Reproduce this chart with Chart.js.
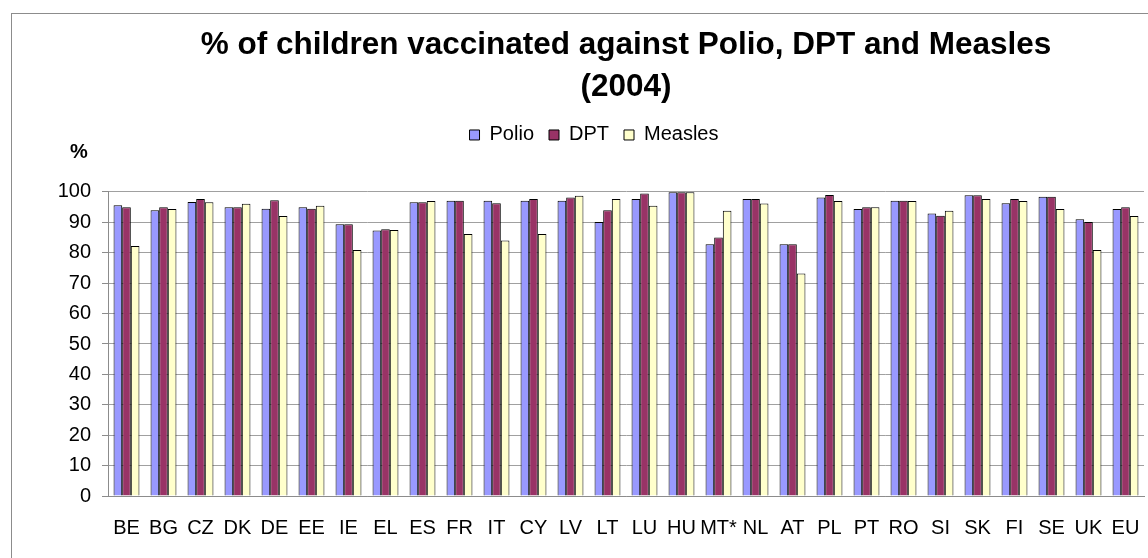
<!DOCTYPE html>
<html>
<head>
<meta charset="utf-8">
<title>% of children vaccinated against Polio, DPT and Measles (2004)</title>
<script src="https://cdn.jsdelivr.net/npm/chart.js@4.4.1/dist/chart.umd.min.js"></script>
<style>
  body { margin: 0; background: #fff; }
  canvas { display: block; }
</style>
</head>
<body>
<canvas id="vaccines-chart" width="1148" height="558"></canvas>
<script>
// values (%)
const countries = ['BE', 'BG', 'CZ', 'DK', 'DE', 'EE', 'IE', 'EL', 'ES', 'FR', 'IT', 'CY', 'LV', 'LT',
  'LU', 'HU', 'MT*', 'NL', 'AT', 'PL', 'PT', 'RO', 'SI', 'SK', 'FI', 'SE', 'UK', 'EU'];
const polio = [95.6, 94.0, 96.7, 95.0, 94.5, 95.0, 89.4, 87.3, 96.6, 97.1, 97.1, 97.1, 97.1, 90.1,
  97.7, 99.9, 82.8, 97.7, 82.8, 98.2, 94.4, 97.1, 92.9, 98.9, 96.3, 98.4, 91.0, 94.4];
const dpt = [95.0, 95.0, 97.7, 95.0, 97.3, 94.5, 89.4, 87.7, 96.6, 97.1, 96.3, 97.7, 98.2, 94.0,
  99.5, 99.9, 85.0, 97.7, 82.8, 99.0, 95.0, 97.1, 92.2, 98.9, 97.7, 98.4, 90.1, 95.0];
const measles = [82.2, 94.4, 96.6, 96.1, 92.1, 95.5, 80.9, 87.5, 97.0, 86.2, 84.0, 86.2, 98.8, 97.7,
  95.5, 99.9, 93.8, 96.2, 73.2, 97.0, 95.0, 97.0, 93.8, 97.7, 97.0, 94.4, 80.9, 92.1];
const yTicks = [0, 10, 20, 30, 40, 50, 60, 70, 80, 90, 100];
const unitText = '%';

const FONT = "'Liberation Sans', Arial, sans-serif";

// grey frame round the whole chart (it runs off the right/bottom edge in the original)
const frame = {
  id: 'frame',
  beforeDraw(chart) {
    const ctx = chart.ctx;
    ctx.save();
    ctx.fillStyle = '#fff';
    ctx.fillRect(0, 0, chart.width, chart.height);
    ctx.strokeStyle = '#8c8c8c';
    ctx.lineWidth = 1;
    ctx.strokeRect(11.5, 13.5, chart.width + 50, chart.height + 50);
    ctx.restore();
  }
};

// a layout box under the legend that holds the "%" unit label above the y axis
const unitLabel = {
  id: 'unitLabel',
  beforeInit(chart) {
    const box = {
      position: 'top',
      weight: 500,
      fullSize: true,
      options: { stackWeight: 1 },
      isHorizontal() { return true; },
      update(maxWidth) {
        this.width = maxWidth;
        this.height = 37;
      },
      draw() {
        const ctx = chart.ctx;
        ctx.save();
        ctx.fillStyle = '#000';
        ctx.font = 'bold 20px ' + FONT;
        ctx.textAlign = 'left';
        ctx.textBaseline = 'middle';
        ctx.fillText(unitText, 70, this.top - 2);
        ctx.restore();
      }
    };
    Chart.layouts.addBox(chart, box);
  }
};

const ctx = document.getElementById('vaccines-chart').getContext('2d');
const chart = new Chart(ctx, {
  type: 'bar',
  data: {
    labels: countries,
    datasets: [
      { label: 'Polio', data: polio, backgroundColor: '#9999FF' },
      { label: 'DPT', data: dpt, backgroundColor: '#993366' },
      { label: 'Measles', data: measles, backgroundColor: '#FFFFCC' }
    ]
  },
  options: {
    responsive: false,
    animation: false,
    layout: { padding: { top: 0, left: 44, right: 4, bottom: 0 } },
    datasets: {
      bar: {
        borderColor: '#000',
        borderWidth: 1,
        borderSkipped: 'start',
        categoryPercentage: 0.70,
        barPercentage: 1.0
      }
    },
    plugins: {
      title: {
        display: true,
        fullSize: false,
        text: ['% of children vaccinated against Polio, DPT and Measles', '(2004)'],
        color: '#000',
        font: { family: FONT, size: 31.5, weight: 'bold', lineHeight: 1.333 },
        padding: { top: 24, bottom: 2 }
      },
      legend: {
        display: true,
        position: 'top',
        labels: {
          color: '#000',
          font: { family: FONT, size: 20 },
          boxWidth: 10,
          boxHeight: 10,
          padding: 15
        }
      },
      tooltip: { enabled: false }
    },
    scales: {
      x: {
        grid: { display: false, drawTicks: true, tickLength: 17 },
        border: { display: true, color: '#8c8c8c', width: 1 },
        ticks: {
          color: '#000',
          font: { family: FONT, size: 20 },
          maxRotation: 0,
          autoSkip: false,
          padding: 3
        },
        afterFit(scale) { scale.height = 62; }
      },
      y: {
        min: 0,
        max: 100,
        afterBuildTicks(scale) { scale.ticks = yTicks.map(v => ({ value: v })); },
        grid: { color: '#a0a0a0', lineWidth: 1, drawTicks: true, tickLength: 6, tickColor: '#8c8c8c' },
        border: { display: true, color: '#8c8c8c', width: 1 },
        ticks: {
          color: '#000',
          font: { family: FONT, size: 20 },
          padding: 11
        },
        afterFit(scale) { scale.width = 64; }
      }
    }
  },
  plugins: [frame, unitLabel]
});
</script>
</body>
</html>
